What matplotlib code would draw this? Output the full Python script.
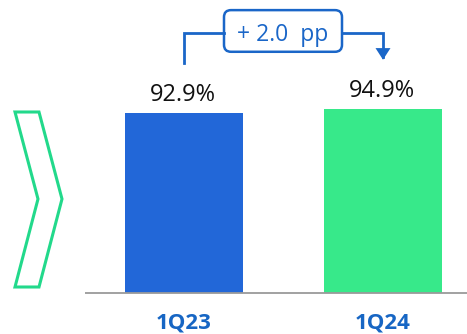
import matplotlib.pyplot as plt
import matplotlib.patches as patches
import numpy as np

quarters = ["1Q23", "1Q24"]
values = [92.9, 94.9]
bar_colors = ["#2267d8", "#37e98a"]

BLUE_TEXT = "#1766c4"
ANNOT = "#1a66c8"
CHEVRON = "#22d98b"

plt.rcParams["font.family"] = ["Open Sans", "DejaVu Sans"]

fig = plt.figure(figsize=(4.67, 3.34), dpi=100)
ax = fig.add_axes([0, 0, 1, 1])

# pixel-like scaling: 199 px per category, 1.9375 px per percentage point
px_x, px_y = 199.0, 1.9375
ax.set_xlim(-184 / px_x, (467 - 184) / px_x)
ax.set_ylim(-41 / px_y, (334 - 41) / px_y)
ax.axis("off")

x = np.arange(len(quarters))
ax.bar(x, values, width=118 / px_x, color=bar_colors)

# baseline
ax.plot([(85 - 184) / px_x, (467 - 184) / px_x], [0, 0], color="#9a9a9a", lw=1.3,
        solid_capstyle="butt")

# value labels
for xi, v in zip(x, values):
    ax.text(xi - 0.005, v + 6.2, f"{v:.1f}%", ha="center", va="baseline", fontsize=17,
            color="#111111")

# category labels
for xi, q in zip(x, quarters):
    ax.text(xi, -18.1, q, ha="center", va="baseline", fontsize=16, fontweight="bold",
            color=BLUE_TEXT)

# change bracket
delta = values[1] - values[0]
y_top = 134.3
box_l, box_r = (224 - 184) / px_x, (342 - 184) / px_x
ax.plot([x[0], x[0], box_l], [values[0] + 25.8, y_top, y_top], color=ANNOT, lw=2,
        solid_joinstyle="miter")
ax.plot([box_r, x[1], x[1]], [y_top, y_top, values[1] + 27], color=ANNOT, lw=2,
        solid_joinstyle="miter")
head_w = 7.5 / px_x
ax.add_patch(patches.Polygon(
    [[x[1] - head_w, values[1] + 31.5], [x[1] + head_w, values[1] + 31.5],
     [x[1], values[1] + 25.5]], closed=True, color=ANNOT, lw=0))
box = patches.FancyBboxPatch(
    (box_l, 124.5), box_r - box_l, 21.5,
    boxstyle=f"round,pad=0,rounding_size={7 / px_x}",
    mutation_aspect=px_x / px_y, facecolor="white", edgecolor=ANNOT, lw=1.8)
ax.add_patch(box)
ax.text((box_l + box_r) / 2, 130.1, f"+ {delta:.1f}  pp", ha="center", va="baseline",
        fontsize=16.5, color=ANNOT)

# chevron marker on the left
chev = [(15, 112), (39, 112), (62, 199), (39, 287), (15, 287), (38, 199)]
chev = [(px / 467, 1 - py / 334) for px, py in chev]
fig.patches.append(patches.Polygon(chev, closed=True, fill=False, edgecolor=CHEVRON,
                                   lw=2.2, transform=fig.transFigure, figure=fig))

fig.savefig("out.png", dpi=100)
